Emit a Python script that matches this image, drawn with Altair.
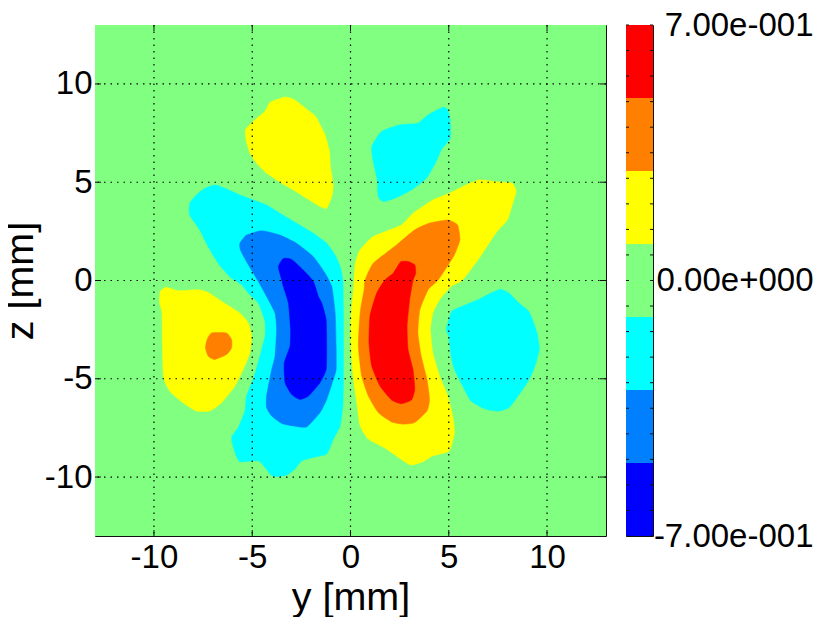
import altair as alt
import pandas as pd

LEVEL_COLORS = ["#0000ff", "#0080ff", "#00ffff", "#80ff80", "#ffff00", "#ff8000", "#ff0000"]
LEVEL_EDGES = [-0.7, -0.5, -0.3, -0.1, 0.1, 0.3, 0.5, 0.7]
CBAR_TICKS = [-0.7, -0.63, -0.56, -0.49, -0.42, -0.35, -0.28, -0.21, -0.14, -0.07, 0, 0.07, 0.14, 0.21, 0.28, 0.35, 0.42, 0.49, 0.56, 0.63, 0.7]
CBAR_VALUES = [-0.7, 0, 0.7]
CBAR_LABELS = ["-7.00e-001", "0.00e+000", "7.00e-001"]
AXIS_TICKS = [-10, -5, 0, 5, 10]
LIMITS = [-13, 13]

CYAN_LEFT = [(-6.90,4.86),(-6.39,4.69),(-5.63,4.35),(-4.95,4.10),(-4.27,3.84),(-3.59,3.42),(-2.74,2.91),(-1.89,2.40),(-1.21,1.89),(-0.78,1.29),(-0.53,0.71),(-0.39,0.03),(-0.36,-1.66),(-0.36,-5.03),(-0.39,-6.39),(-0.53,-7.40),(-0.87,-8.07),(-1.21,-8.83),(-1.89,-9.0),(-2.48,-9.17),(-2.82,-9.59),(-3.25,-9.90),(-3.67,-9.97),(-4.01,-9.93),(-4.35,-9.51),(-4.69,-9.17),(-5.63,-9.22),(-5.88,-8.75),(-6.05,-7.99),(-5.71,-7.48),(-5.37,-6.64),(-5.29,-5.88),(-4.95,-5.03),(-4.61,-3.85),(-4.35,-2.84),(-4.35,-2.08),(-4.69,-1.15),(-5.12,-0.73),(-5.54,-0.22),(-5.83,-0.02),(-6.14,0.19),(-6.73,0.87),(-7.24,1.72),(-7.67,2.57),(-8.18,3.33),(-8.18,3.93),(-7.84,4.35),(-7.41,4.69)]
MID_BLUE = [(-5.63,1.89),(-5.29,2.31),(-4.52,2.53),(-3.59,2.31),(-2.74,1.89),(-1.89,1.21),(-1.29,0.37),(-0.95,-0.32),(-0.78,-1.66),(-0.73,-3.34),(-0.73,-4.53),(-0.87,-5.03),(-1.21,-6.05),(-1.55,-6.72),(-2.23,-7.45),(-2.91,-7.40),(-3.50,-7.27),(-4.01,-6.89),(-4.27,-6.47),(-4.27,-5.88),(-4.01,-4.53),(-3.84,-3.85),(-3.76,-2.50),(-3.84,-1.66),(-4.27,-0.81),(-4.69,-0.05),(-5.29,0.95),(-5.60,1.55)]
DARK_BLUE = [(-3.67,0.70),(-3.42,1.12),(-2.99,1.07),(-2.40,0.53),(-1.89,-0.05),(-1.63,-0.83),(-1.46,-1.15),(-1.24,-1.99),(-1.21,-3.34),(-1.24,-4.53),(-1.55,-5.20),(-2.14,-5.88),(-2.57,-6.05),(-2.99,-5.80),(-3.33,-5.20),(-3.37,-4.19),(-3.08,-3.34),(-3.05,-2.50),(-3.16,-1.15),(-3.42,-0.30),(-3.50,0.03)]
YELLOW_TOP = [(-3.33,9.34),(-2.91,9.23),(-2.31,8.78),(-1.80,8.38),(-1.55,7.93),(-1.29,7.41),(-1.07,6.56),(-1.02,5.80),(-0.88,4.86),(-0.95,4.27),(-1.21,3.67),(-1.55,3.76),(-2.23,4.18),(-2.91,4.61),(-3.50,4.95),(-4.27,5.46),(-4.78,5.97),(-5.12,6.48),(-5.32,7.16),(-5.34,7.67),(-4.95,8.10),(-4.35,8.61),(-4.10,9.06),(-3.67,9.23)]
YELLOW_LEFT = [(-9.37,-0.34),(-8.78,-0.52),(-7.76,-0.47),(-7.24,-0.61),(-6.56,-1.06),(-5.63,-1.66),(-5.20,-2.16),(-5.03,-2.84),(-5.12,-3.68),(-5.46,-4.53),(-5.88,-5.37),(-6.56,-6.22),(-7.16,-6.64),(-7.84,-6.64),(-8.52,-6.22),(-9.20,-5.63),(-9.51,-4.95),(-9.57,-3.34),(-9.59,-1.66),(-9.71,-1.15),(-9.68,-0.56)]
ORANGE_SPOT = [(-7.07,-2.67),(-6.31,-2.67),(-6.05,-3.01),(-6.05,-3.43),(-6.31,-3.77),(-6.90,-4.02),(-7.24,-3.85),(-7.38,-3.43),(-7.30,-3.01)]
CYAN_TOP = [(4.70,8.81),(4.95,8.68),(5.07,8.17),(5.07,7.24),(4.61,6.64),(4.36,6.05),(3.86,5.20),(3.10,4.61),(2.26,4.19),(1.67,4.02),(1.41,4.27),(1.36,5.12),(1.16,6.05),(1.08,6.81),(1.58,7.58),(2.51,7.92),(3.43,8.00),(3.94,8.42)]
YELLOW_RIGHT = [(6.55,5.12),(7.39,5.03),(8.23,4.95),(8.43,4.53),(8.23,3.85),(7.98,3.08),(7.39,2.41),(6.55,1.14),(5.71,0.03),(5.12,-0.30),(4.53,-0.98),(4.19,-1.66),(4.07,-2.50),(4.19,-3.68),(4.53,-4.86),(4.95,-5.88),(5.20,-6.89),(5.29,-7.74),(5.03,-8.67),(4.19,-8.92),(3.69,-9.22),(3.10,-9.39),(2.68,-9.17),(1.84,-8.58),(0.91,-8.07),(0.49,-7.40),(0.32,-6.22),(0.15,-5.03),(0.02,-3.34),(0.03,-1.66),(0.15,-0.47),(0.24,0.88),(0.49,1.56),(1.16,2.24),(2.59,2.83),(3.18,3.42),(4.19,4.10),(5.03,4.44),(5.88,4.86)]
ORANGE_RIGHT = [(4.95,3.08),(5.45,2.83),(5.57,2.07),(5.29,1.31),(4.87,0.63),(4.44,0.00),(3.95,-0.47),(3.53,-1.49),(3.43,-2.67),(3.60,-3.85),(3.89,-5.03),(4.02,-6.05),(3.89,-6.64),(3.27,-7.23),(2.68,-7.31),(2.09,-7.20),(1.41,-6.72),(0.91,-5.88),(0.57,-4.86),(0.40,-3.34),(0.49,-1.66),(0.69,-0.47),(0.74,0.03),(1.16,0.88),(2.34,1.81),(3.27,2.58),(4.02,2.92)]
RED_RIGHT = [(2.55,0.95),(2.93,0.97),(3.27,0.80),(3.32,0.37),(3.18,0.00),(3.01,-0.98),(2.88,-2.33),(2.93,-3.51),(3.18,-4.53),(3.27,-5.54),(3.10,-6.08),(2.59,-6.27),(2.09,-6.08),(1.50,-5.37),(1.08,-4.36),(0.94,-3.18),(0.99,-1.82),(1.33,-0.64),(1.75,0.03),(2.17,0.37)]
CYAN_RIGHT = [(7.64,-0.44),(8.06,-0.64),(8.57,-1.15),(9.07,-1.57),(9.32,-2.16),(9.49,-2.67),(9.61,-3.51),(9.32,-4.53),(8.99,-5.20),(8.40,-6.05),(8.06,-6.47),(7.56,-6.64),(6.88,-6.55),(6.13,-6.13),(5.71,-5.37),(5.29,-4.53),(5.12,-3.85),(5.00,-2.84),(4.87,-2.50),(5.03,-1.91),(5.20,-1.52),(5.87,-1.23),(6.55,-0.95),(7.14,-0.64)]

SHAPES = [
    (CYAN_LEFT, 2), (MID_BLUE, 1), (DARK_BLUE, 0), (YELLOW_TOP, 4), (YELLOW_LEFT, 4),
    (ORANGE_SPOT, 5), (CYAN_TOP, 2), (YELLOW_RIGHT, 4), (ORANGE_RIGHT, 5), (RED_RIGHT, 6), (CYAN_RIGHT, 2),
]

FONT = "Liberation Sans"
TICK_SIZE = 33
TITLE_SIZE = 39.5
W = 511
H = 511
DARK = "#111111"

xs = alt.Scale(domain=LIMITS, nice=False, zero=False)
ys = alt.Scale(domain=LIMITS, nice=False, zero=False)

x_axis = alt.Axis(values=AXIS_TICKS, labelExpr="datum.value", title="y [mm]", grid=False, ticks=False,
                  domain=False, labelFontSize=TICK_SIZE, labelFont=FONT, labelColor="black", labelPadding=5,
                  titleFontSize=TITLE_SIZE, titleFont=FONT, titleFontWeight="normal", titleColor="black",
                  titlePadding=4, labelFlush=False)
y_axis = alt.Axis(values=AXIS_TICKS, labelExpr="datum.value", title="z [mm]", grid=False, ticks=False,
                  domain=False, labelFontSize=TICK_SIZE, labelFont=FONT, labelColor="black", labelPadding=3,
                  titleFontSize=TITLE_SIZE, titleFont=FONT, titleFontWeight="normal", titleColor="black",
                  titlePadding=4, labelFlush=False)

def X(f):
    return alt.X(f, scale=xs, axis=x_axis)

def Y(f):
    return alt.Y(f, scale=ys, axis=y_axis)

bg = alt.Chart(pd.DataFrame({"x": [LIMITS[0]], "x2": [LIMITS[1]], "y": [LIMITS[0]], "y2": [LIMITS[1]]})).mark_rect(
    color=LEVEL_COLORS[3]).encode(x=X("x:Q"), x2="x2:Q", y=Y("y:Q"), y2="y2:Q")

layers = [bg]
for pts, lev in SHAPES:
    df = pd.DataFrame({"y": [p[0] for p in pts], "z": [p[1] for p in pts], "seq": range(len(pts))})
    layers.append(
        alt.Chart(df).mark_line(fill=LEVEL_COLORS[lev], stroke=LEVEL_COLORS[lev], strokeWidth=0.5,
                                interpolate="cardinal-closed", tension=0.5).encode(
            x=X("y:Q"), y=Y("z:Q"), order=alt.Order("seq:Q"))
    )

tick_df = pd.DataFrame({"t": AXIS_TICKS})
ends = [(0, 6), (W - 6, W)]
layers.append(alt.Chart(tick_df).mark_rule(color="black", strokeWidth=1.2, strokeDash=[1.5, 5]).encode(x=X("t:Q")))
layers.append(alt.Chart(tick_df).mark_rule(color="black", strokeWidth=1.2, strokeDash=[1.5, 5]).encode(y=Y("t:Q")))
for a, b in ends:
    layers.append(alt.Chart(tick_df).mark_rule(color=DARK, strokeWidth=1).encode(x=X("t:Q"), y=alt.value(a), y2=alt.value(b)))
    layers.append(alt.Chart(tick_df).mark_rule(color=DARK, strokeWidth=1).encode(y=Y("t:Q"), x=alt.value(a), x2=alt.value(b)))

main = alt.layer(*layers).properties(width=W, height=H)

cb_scale = alt.Scale(domain=[-0.7, 0.7], nice=False, zero=False)
cb_df = pd.DataFrame({"lo": LEVEL_EDGES[:-1], "hi": LEVEL_EDGES[1:], "c": LEVEL_COLORS})
label_expr = "datum.value > 0 ? '%s' : datum.value < 0 ? '%s' : '%s'" % (CBAR_LABELS[2], CBAR_LABELS[0], CBAR_LABELS[1])
cb_axis = alt.Axis(orient="right", values=CBAR_VALUES, labelExpr=label_expr, title=None, grid=False, ticks=False,
                   domain=False, labelFontSize=TICK_SIZE, labelFont=FONT, labelColor="black",
                   labelAlign="right", labelBaseline="middle", labelPadding=160, labelFlush=False, labelOverlap=False)
cb_rect = alt.Chart(cb_df).mark_rect().encode(
    x=alt.value(0), x2=alt.value(27),
    y=alt.Y("lo:Q", scale=cb_scale, axis=cb_axis), y2="hi:Q",
    color=alt.Color("c:N", scale=None, legend=None))
cb_tick_df = pd.DataFrame({"t": CBAR_TICKS})
cb_layers = [cb_rect]
for a, b in [(0, 3), (24, 27)]:
    cb_layers.append(alt.Chart(cb_tick_df).mark_rule(color=DARK, strokeWidth=1).encode(
        y=alt.Y("t:Q", scale=cb_scale, axis=cb_axis), x=alt.value(a), x2=alt.value(b)))
cbar = alt.layer(*cb_layers).properties(width=27, height=H)

chart = alt.hconcat(main, cbar, spacing=17, padding={"left": -9, "top": 0, "right": 0, "bottom": 0}).configure_view(
    stroke="#111111", strokeWidth=1)

chart.save("out.html", embed_options={"renderer": "svg", "actions": False})
